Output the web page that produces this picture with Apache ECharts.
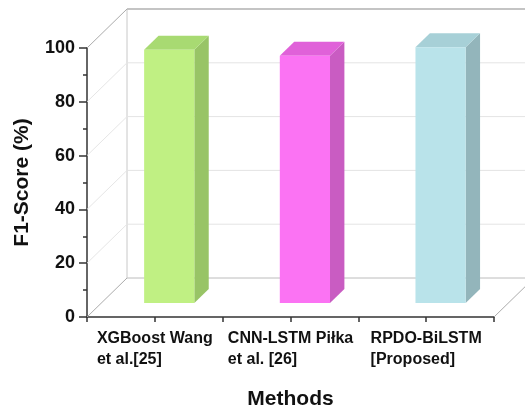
<!DOCTYPE html>
<html>
<head>
<meta charset="utf-8">
<script src="https://cdn.jsdelivr.net/npm/echarts@6/dist/echarts.min.js"></script>
<style>
html,body{margin:0;padding:0;background:#fff;}
#chart{width:525px;height:415px;}
</style>
</head>
<body>
<div id="chart"></div>
<script>
// ---- data ----
const categories = ['XGBoost Wang\net al.[25]', 'CNN-LSTM Piłka\net al. [26]', 'RPDO-BiLSTM\n[Proposed]'];
const f1Scores = [94.1, 91.9, 95.1];
const yTicks = [0, 20, 40, 60, 80, 100];
const yAxisTitle = 'F1-Score (%)';
const xAxisTitle = 'Methods';

// ---- styles ----
const FONT = '"Liberation Sans", Arial, Helvetica, sans-serif';
const faceColors = ['#c0f083', '#fb73f3', '#b9e3ea'];
const topColors  = ['#a8da72', '#e061d9', '#a7d0d7'];
const sideColors = ['#98c466', '#c95cc2', '#93b5bb'];
const DEPTH = [40, -39];          // full depth of the 3D box (px)
const BAR_FRONT = [14.4, -14];    // bar front face depth offset
const BAR_BACK = [28.8, -28];     // bar back face depth offset
const BAR_W = 0.37;               // share of category width

const chart = echarts.init(document.getElementById('chart'), null, {renderer: 'canvas'});

function line(x1, y1, x2, y2, color, w) {
  return {type: 'line', shape: {x1, y1, x2, y2}, style: {stroke: color, lineWidth: w || 1}, silent: true};
}

const yMax = yTicks[yTicks.length - 1];

const option = {
  backgroundColor: '#ffffff',
  animation: false,
  grid: {left: 87, right: 31, top: 48, bottom: 93},
  xAxis: [{
    type: 'category',
    data: categories,
    boundaryGap: true,
    axisLine: {lineStyle: {color: '#333', width: 1.5}},
    axisTick: {show: true, length: 5, lineStyle: {color: '#333', width: 1.5}},
    axisLabel: {
      interval: 0,
      margin: 11,
      formatter: v => v.split('\n').map(s => '{a|' + s + '}').join('\n'),
      rich: {a: {align: 'left', fontFamily: FONT, fontSize: 16, fontWeight: 'bold', color: '#111', lineHeight: 21}}
    },
    name: xAxisTitle,
    nameLocation: 'middle',
    nameGap: 72,
    nameTextStyle: {fontFamily: FONT, fontSize: 21, fontWeight: 'bold', color: '#111'},
    splitLine: {show: false}
  }, {
    type: 'category',
    data: categories,
    position: 'bottom',
    axisLine: {show: false},
    axisTick: {show: true, alignWithLabel: true, length: 5, lineStyle: {color: '#333', width: 1.5}},
    axisLabel: {show: false},
    splitLine: {show: false}
  }],
  yAxis: {
    type: 'value',
    min: 0, max: yMax, interval: 20,
    axisLine: {show: true, lineStyle: {color: '#333', width: 1.5}},
    axisTick: {show: true, length: 8, lineStyle: {color: '#333', width: 1.5}},
    minorTick: {show: true, splitNumber: 2, length: 4, lineStyle: {color: '#333', width: 1.5}},
    axisLabel: {margin: 12, fontFamily: FONT, fontSize: 18, fontWeight: 'bold', color: '#111'},
    splitLine: {show: false},
    name: yAxisTitle,
    nameLocation: 'middle',
    nameGap: 54,
    nameRotate: 90,
    nameTextStyle: {fontFamily: FONT, fontSize: 21, fontWeight: 'bold', color: '#111'}
  },
  series: [{
    type: 'custom',
    name: 'frame',
    z: 1,
    silent: true,
    data: yTicks.map(v => [0, v]),
    renderItem: function (params, api) {
      const cs = params.coordSys;
      const v = api.value(1);
      const y = api.coord([0, v])[1];
      const yTop = api.coord([0, yMax])[1];
      const bx = cs.x + DEPTH[0], by = y + DEPTH[1];
      const edge = (v === 0 || v === yMax);
      const children = [];
      children.push(line(cs.x, y, bx, by, edge ? '#ababab' : '#e6e6e6', 1));
      let backColor = '#e4e4e4', backW = 1;
      if (v === yMax) { backColor = '#c4c4c4'; backW = 2; }
      if (v === 0) { backColor = '#bcbcbc'; }
      children.push(line(bx, by, cs.x + cs.width + DEPTH[0], by, backColor, backW));
      if (v === 0) {
        children.push(line(cs.x + cs.width, y, cs.x + cs.width + DEPTH[0], by, '#ababab', 1));
        children.push(line(bx, by, bx, yTop + DEPTH[1], '#c8c8c8', 1));
      }
      return {type: 'group', children};
    }
  }, {
    type: 'custom',
    name: 'F1-Score',
    z: 2,
    data: f1Scores.map((v, i) => [i, v]),
    renderItem: function (params, api) {
      const i = api.value(0);
      const v = api.value(1);
      const top = api.coord([i, v]);
      const base = api.coord([i, 0]);
      const w = api.size([1, 0])[0] * BAR_W;
      const x0 = top[0] - w / 2 + BAR_FRONT[0];
      const x1 = x0 + w;
      const yT = top[1] + BAR_FRONT[1];
      const yB = base[1] + BAR_FRONT[1];
      const dx = BAR_BACK[0] - BAR_FRONT[0];
      const dy = BAR_BACK[1] - BAR_FRONT[1];
      return {
        type: 'group',
        children: [
          {type: 'polygon', shape: {points: [[x1, yT], [x1 + dx, yT + dy], [x1 + dx, yB + dy], [x1, yB]]},
           style: {fill: sideColors[i]}},
          {type: 'polygon', shape: {points: [[x0, yT], [x0 + dx, yT + dy], [x1 + dx, yT + dy], [x1, yT]]},
           style: {fill: topColors[i]}},
          {type: 'rect', shape: {x: x0, y: yT, width: w, height: yB - yT},
           style: {fill: faceColors[i]}}
        ]
      };
    }
  }]
};

chart.setOption(option);
</script>
</body>
</html>
